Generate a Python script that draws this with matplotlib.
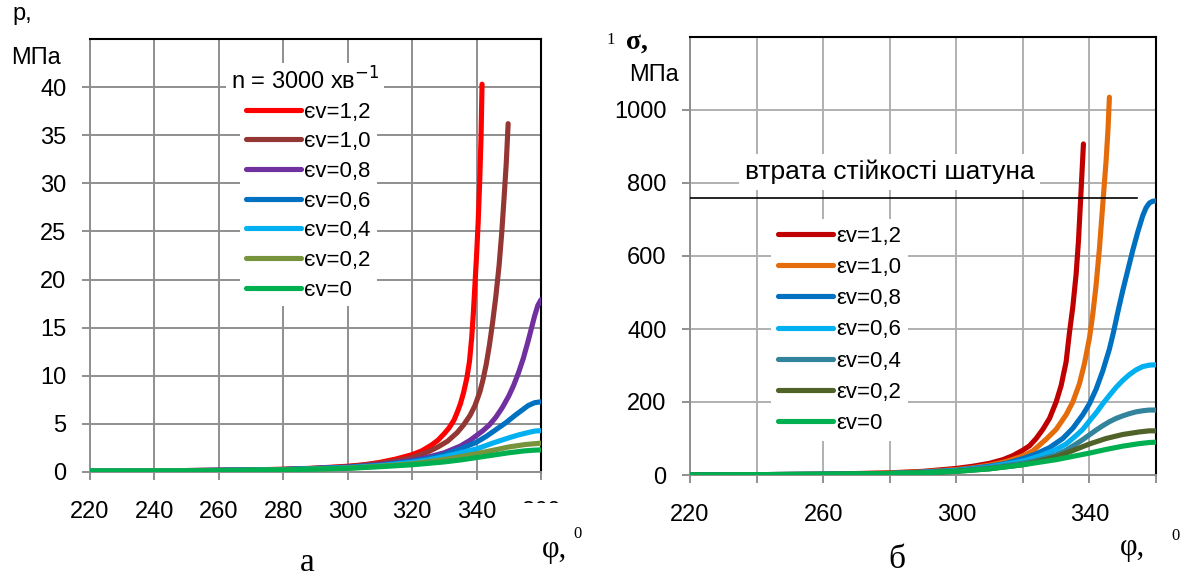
import matplotlib.pyplot as plt
from matplotlib.patches import Rectangle

plt.rcParams['font.family'] = ['Liberation Sans', 'DejaVu Sans']
plt.rcParams['axes.grid'] = True
plt.rcParams['grid.linewidth'] = 1.4
plt.rcParams['grid.alpha'] = 1.0

# ---- left chart: gas pressure p, MPa ----
p_title = 'n = 3000 хв$^{-1}$'
p_labels = ['єv=1,2', 'єv=1,0', 'єv=0,8', 'єv=0,6', 'єv=0,4', 'єv=0,2', 'єv=0']
p_colors = ['#ff0000', '#943634', '#7030a0', '#0070c0', '#00b0f0', '#77933c', '#00b050']
p_phi = [
    [220, 240, 260, 280, 290, 300, 305, 310, 315, 320, 323, 326, 328, 330, 331.5, 333, 334, 335, 336, 337, 337.8, 338.5, 339, 339.5, 340, 340.5, 341, 341.4, 341.7],
    [220, 240, 260, 280, 290, 300, 310, 315, 320, 325, 328, 331, 334, 336, 338, 339.5, 341, 342, 343, 344, 345, 346, 347, 347.8, 348.5, 349.2, 349.8],
    [220, 240, 260, 280, 300, 310, 320, 325, 330, 335, 338, 340, 342, 344, 346, 348, 350, 351.5, 353, 354.5, 356, 357, 358, 359, 360],
    [220, 240, 260, 280, 300, 310, 320, 325, 330, 335, 340, 343, 346, 349, 352, 354, 356, 358, 360],
    [220, 240, 260, 280, 300, 310, 320, 325, 330, 335, 340, 345, 350, 353, 356, 358, 360],
    [220, 240, 260, 280, 300, 310, 320, 330, 335, 340, 345, 350, 355, 360],
    [220, 240, 260, 280, 300, 310, 320, 330, 335, 340, 345, 350, 355, 358, 360],
]
p_vals = [
    [0.1, 0.12, 0.18, 0.28, 0.4, 0.6, 0.75, 1.0, 1.35, 1.8, 2.2, 2.8, 3.3, 4.0, 4.6, 5.4, 6.2, 7.1, 8.3, 9.8, 11.5, 14, 16.5, 19.5, 22.5, 26, 30.5, 35, 40.3],
    [0.1, 0.12, 0.18, 0.27, 0.38, 0.55, 0.9, 1.15, 1.5, 2.1, 2.6, 3.2, 4.1, 4.9, 5.9, 6.9, 8.3, 9.6, 11.2, 13.2, 15.6, 18.3, 21.5, 24.8, 28.3, 32, 36.2],
    [0.1, 0.12, 0.18, 0.26, 0.5, 0.75, 1.2, 1.55, 2.0, 2.7, 3.3, 3.8, 4.3, 4.9, 5.7, 6.7, 7.9, 9.0, 10.3, 11.8, 13.6, 14.9, 16.2, 17.3, 17.9],
    [0.1, 0.12, 0.17, 0.25, 0.48, 0.7, 1.1, 1.4, 1.8, 2.4, 3.1, 3.7, 4.4, 5.1, 5.9, 6.4, 6.9, 7.2, 7.3],
    [0.1, 0.12, 0.16, 0.24, 0.45, 0.65, 1.0, 1.25, 1.6, 2.0, 2.4, 3.0, 3.55, 3.85, 4.1, 4.25, 4.3],
    [0.1, 0.12, 0.15, 0.23, 0.4, 0.6, 0.85, 1.3, 1.6, 1.9, 2.25, 2.6, 2.85, 3.0],
    [0.1, 0.11, 0.14, 0.22, 0.38, 0.55, 0.75, 1.05, 1.25, 1.5, 1.75, 2.0, 2.2, 2.27, 2.3],
]
p_xticks = [220, 240, 260, 280, 300, 320, 340, 360]
p_yticks = [0, 5, 10, 15, 20, 25, 30, 35, 40]

# ---- right chart: connecting rod stress sigma, MPa ----
s_labels = ['εv=1,2', 'εv=1,0', 'εv=0,8', 'εv=0,6', 'εv=0,4', 'εv=0,2', 'εv=0']
s_colors = ['#c00000', '#e46c0a', '#0070c0', '#00b0f0', '#31849b', '#4f6228', '#00b050']
s_phi = [
    [220, 240, 260, 280, 290, 300, 305, 310, 314, 317, 320, 322, 324, 326, 328, 330, 331.5, 333, 334, 335, 336, 336.7, 337.3, 337.8, 338.2],
    [220, 240, 260, 280, 290, 300, 305, 310, 315, 320, 323, 327, 330, 333, 335, 337, 338.5, 340, 341, 342, 343, 344, 345, 345.6, 346],
    [220, 240, 260, 280, 290, 300, 310, 315, 320, 324, 328, 332, 335, 338, 340, 342, 344, 346, 347.2, 348.5, 350, 351.5, 353, 354.5, 356, 357, 358, 359, 360],
    [220, 240, 260, 280, 290, 300, 310, 320, 325, 330, 333, 336, 338, 340, 342, 344, 346, 348, 350, 352, 354, 356, 358, 360],
    [220, 240, 260, 280, 290, 300, 310, 320, 325, 330, 333, 336, 338, 340, 342, 344, 346, 348, 350, 352, 354, 356, 358, 360],
    [220, 240, 260, 280, 290, 300, 310, 320, 325, 330, 335, 340, 345, 350, 355, 358, 360],
    [220, 240, 260, 280, 290, 300, 310, 320, 325, 330, 335, 340, 345, 350, 355, 358, 360],
]
s_vals = [
    [0, 1, 2, 6, 10, 18, 24, 32, 42, 53, 68, 80, 100, 125, 155, 200, 245, 310, 390, 460, 550, 640, 745, 835, 907],
    [0, 1, 2, 5, 9, 15, 20, 27, 37, 52, 66, 98, 125, 165, 200, 250, 305, 375, 440, 520, 620, 740, 860, 950, 1035],
    [0, 1, 2, 4, 8, 13, 24, 32, 45, 58, 75, 100, 128, 165, 195, 235, 285, 345, 390, 445, 505, 560, 615, 665, 710, 732, 745, 750, 751],
    [0, 1, 2, 4, 7, 12, 22, 38, 52, 70, 85, 108, 125, 148, 170, 195, 218, 240, 259, 275, 288, 297, 301, 302],
    [0, 1, 2, 4, 7, 11, 20, 32, 42, 55, 68, 85, 97, 110, 123, 135, 146, 155, 162, 168, 173, 176, 178, 178],
    [0, 1, 2, 4, 6, 10, 17, 28, 38, 50, 67, 85, 100, 111, 118, 121, 121],
    [0, 1, 2, 4, 6, 10, 17, 28, 35, 42, 51, 60, 70, 79, 86, 89, 90],
]
s_xticks = [220, 240, 260, 280, 300, 320, 340, 360]
s_xlabels = ['220', '', '260', '', '300', '', '340', '']
s_yticks = [0, 200, 400, 600, 800, 1000]
limit_text = 'втрата стійкості шатуна'
limit_level = 760
limit_end = 354.4

W, H = 1188, 579
def fx(px):
    return px / W
def fy(py):
    return 1 - py / H

fig = plt.figure(figsize=(W / 100, H / 100), dpi=100)
ax1 = fig.add_axes([fx(90), fy(472), (541 - 90) / W, (472 - 39) / H])
ax2 = fig.add_axes([fx(690), fy(475), (1156 - 690) / W, (475 - 37) / H])

# left chart
for phi, vals, c, lab in zip(p_phi, p_vals, p_colors, p_labels):
    ax1.plot(phi, vals, color=c, lw=3.7, label=lab, solid_capstyle='round', solid_joinstyle='round', zorder=3)
ax1.set_xlim(220, 360)
ax1.set_ylim(0, 45)
ax1.set_xticks(p_xticks)
ax1.set_yticks(p_yticks)

# right chart
for phi, vals, c, lab in zip(s_phi, s_vals, s_colors, s_labels):
    ax2.plot(phi, vals, color=c, lw=3.7, label=lab, solid_capstyle='round', solid_joinstyle='round', zorder=3)
ax2.set_xlim(220, 360)
ax2.set_ylim(0, 1200)
ax2.set_xticks(s_xticks, labels=s_xlabels)
ax2.set_yticks(s_yticks)
ax2.plot([220, limit_end], [limit_level, limit_level], color='black', lw=1.2, zorder=4)
ax2.text(280, 830, limit_text, fontsize=19, ha='center', va='center',
         bbox=dict(facecolor='white', edgecolor='none', pad=4), zorder=5)

for a, gc in ((ax1, '#8f8f8f'), (ax2, '#b0b0b0')):
    a.set_axisbelow(True)
    a.tick_params(labelsize=17, length=6, width=1.4, color='#8f8f8f')
    a.tick_params(axis='x', pad=15)
    a.tick_params(axis='y', pad=11)
    a.grid(True, color=gc, linewidth=1.4)
    a.spines['left'].set_color('#8f8f8f')
    a.spines['bottom'].set_color('#8f8f8f')
    a.spines['left'].set_linewidth(1.4)
    a.spines['bottom'].set_linewidth(1.4)
    a.spines['top'].set_color('black')
    a.spines['right'].set_color('black')
    a.spines['top'].set_linewidth(1.5)
    a.spines['right'].set_linewidth(1.5)

leg1 = ax1.legend(loc='upper left', bbox_to_anchor=(fx(240), fy(96)), bbox_transform=fig.transFigure,
                  fontsize=16, handlelength=2.5, handletextpad=0.15, labelspacing=0.39,
                  borderpad=0.25, borderaxespad=0, frameon=True, fancybox=False, framealpha=1,
                  edgecolor='none')
leg1.set_zorder(6)
fig.text(fx(305), fy(81), p_title, fontsize=17, ha='center', va='center',
         bbox=dict(facecolor='white', edgecolor='none', pad=3), zorder=5)

leg2 = ax2.legend(loc='upper left', bbox_to_anchor=(fx(771), fy(219)), bbox_transform=fig.transFigure,
                  fontsize=16, handlelength=2.5, handletextpad=0.15, labelspacing=0.46,
                  borderpad=0.3, borderaxespad=0, frameon=True, fancybox=False, framealpha=1,
                  edgecolor='none')
leg2.set_zorder(6)

# cover the lower part of the "360" label like in the source
fig.patches.append(Rectangle((fx(515), fy(526)), 56 / W, 23 / H, transform=fig.transFigure,
                             facecolor='white', edgecolor='none', zorder=10))

# axis captions
fig.text(fx(22), fy(14), 'p,', fontsize=17, ha='center', va='center')
fig.text(fx(36), fy(58), 'МПа', fontsize=17, ha='center', va='center')
fig.text(fx(611), fy(40), '1', fontsize=12, family='Liberation Serif', ha='center', va='center')
fig.text(fx(637), fy(42), 'σ,', fontsize=20, family='Liberation Serif', weight='bold', ha='center', va='center')
fig.text(fx(654), fy(75), 'МПа', fontsize=17, ha='center', va='center',
         bbox=dict(facecolor='white', edgecolor='none', pad=2), zorder=11)
fig.text(fx(554), fy(550), 'φ,', fontsize=22, family='Liberation Serif', ha='center', va='center', zorder=11)
fig.text(fx(577), fy(534), '0', fontsize=12, family='Liberation Serif', ha='center', va='center', zorder=11)
fig.text(fx(1132), fy(548), 'φ,', fontsize=22, family='Liberation Serif', ha='center', va='center')
fig.text(fx(1176), fy(536), '0', fontsize=12, family='Liberation Serif', ha='center', va='center')
fig.text(fx(307), fy(563), 'а', fontsize=24, family='Liberation Serif', ha='center', va='center')
fig.text(fx(897), fy(560), 'б', fontsize=24, family='Liberation Serif', ha='center', va='center')

fig.savefig('out.png', dpi=100)
